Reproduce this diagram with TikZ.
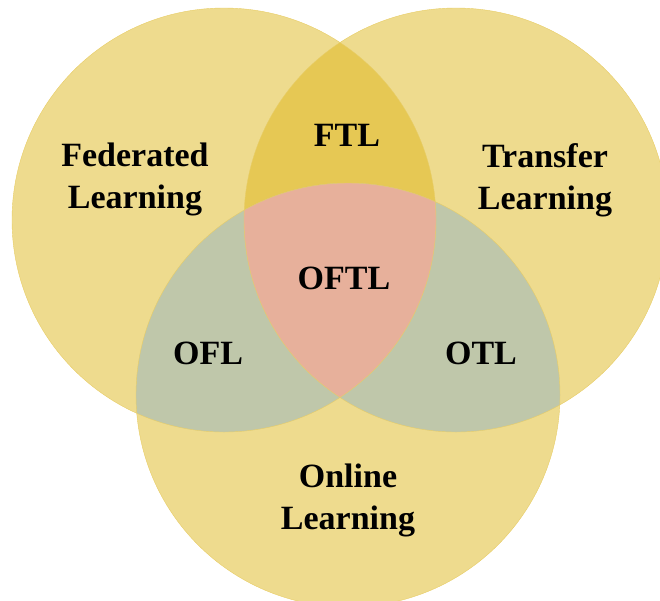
\documentclass[tikz,border=0pt]{standalone}
\usepackage{fontspec}
\setmainfont{Liberation Serif}

\definecolor{vennbase}{HTML}{EEDB8E}
\definecolor{vennftl}{HTML}{E6C854}
\definecolor{vennol}{HTML}{BFC7AA}
\definecolor{vennall}{HTML}{E7B09B}
\definecolor{vennedge}{HTML}{E8CD66}

\begin{document}
\begin{tikzpicture}[x=1pt,y=-1pt,
    lbl/.style={font=\bfseries\fontsize{34}{42}\selectfont, align=center, text=black},
    ring/.style={draw=vennedge, line width=0.4pt}]
% Frame
\clip (0,0) rectangle (660,600);
% Circle centres
\coordinate (fed) at (224,220);
\coordinate (trl) at (456,220);
\coordinate (onl) at (348,395);
% Circles
\fill[vennbase] (fed) circle (212pt);
\fill[vennbase] (trl) circle (212pt);
\fill[vennbase] (onl) circle (212pt);
% Overlaps
\begin{scope}
  \clip (fed) circle (212pt);
  \fill[vennftl] (trl) circle (212pt);
  \fill[vennol] (onl) circle (212pt);
\end{scope}
\begin{scope}
  \clip (trl) circle (212pt);
  \fill[vennol] (onl) circle (212pt);
\end{scope}
\begin{scope}
  \clip (fed) circle (212pt);
  \clip (trl) circle (212pt);
  \fill[vennall] (onl) circle (212pt);
\end{scope}
% Outlines
\draw[ring] (fed) circle (212pt);
\draw[ring] (trl) circle (212pt);
\draw[ring] (onl) circle (212pt);
% Labels
\node[lbl] (fedl) at (135,179) {Federated\\Learning};
\node[lbl] (trll) at (545,180) {Transfer\\Learning};
\node[lbl] (onll) at (348,500) {Online\\Learning};
\node[lbl] (ftl) at (347,135) {FTL};
\node[lbl] (oftl) at (344,278) {OFTL};
\node[lbl] (ofl) at (208,353) {OFL};
\node[lbl] (otl) at (481,353) {OTL};
\end{tikzpicture}
\end{document}
